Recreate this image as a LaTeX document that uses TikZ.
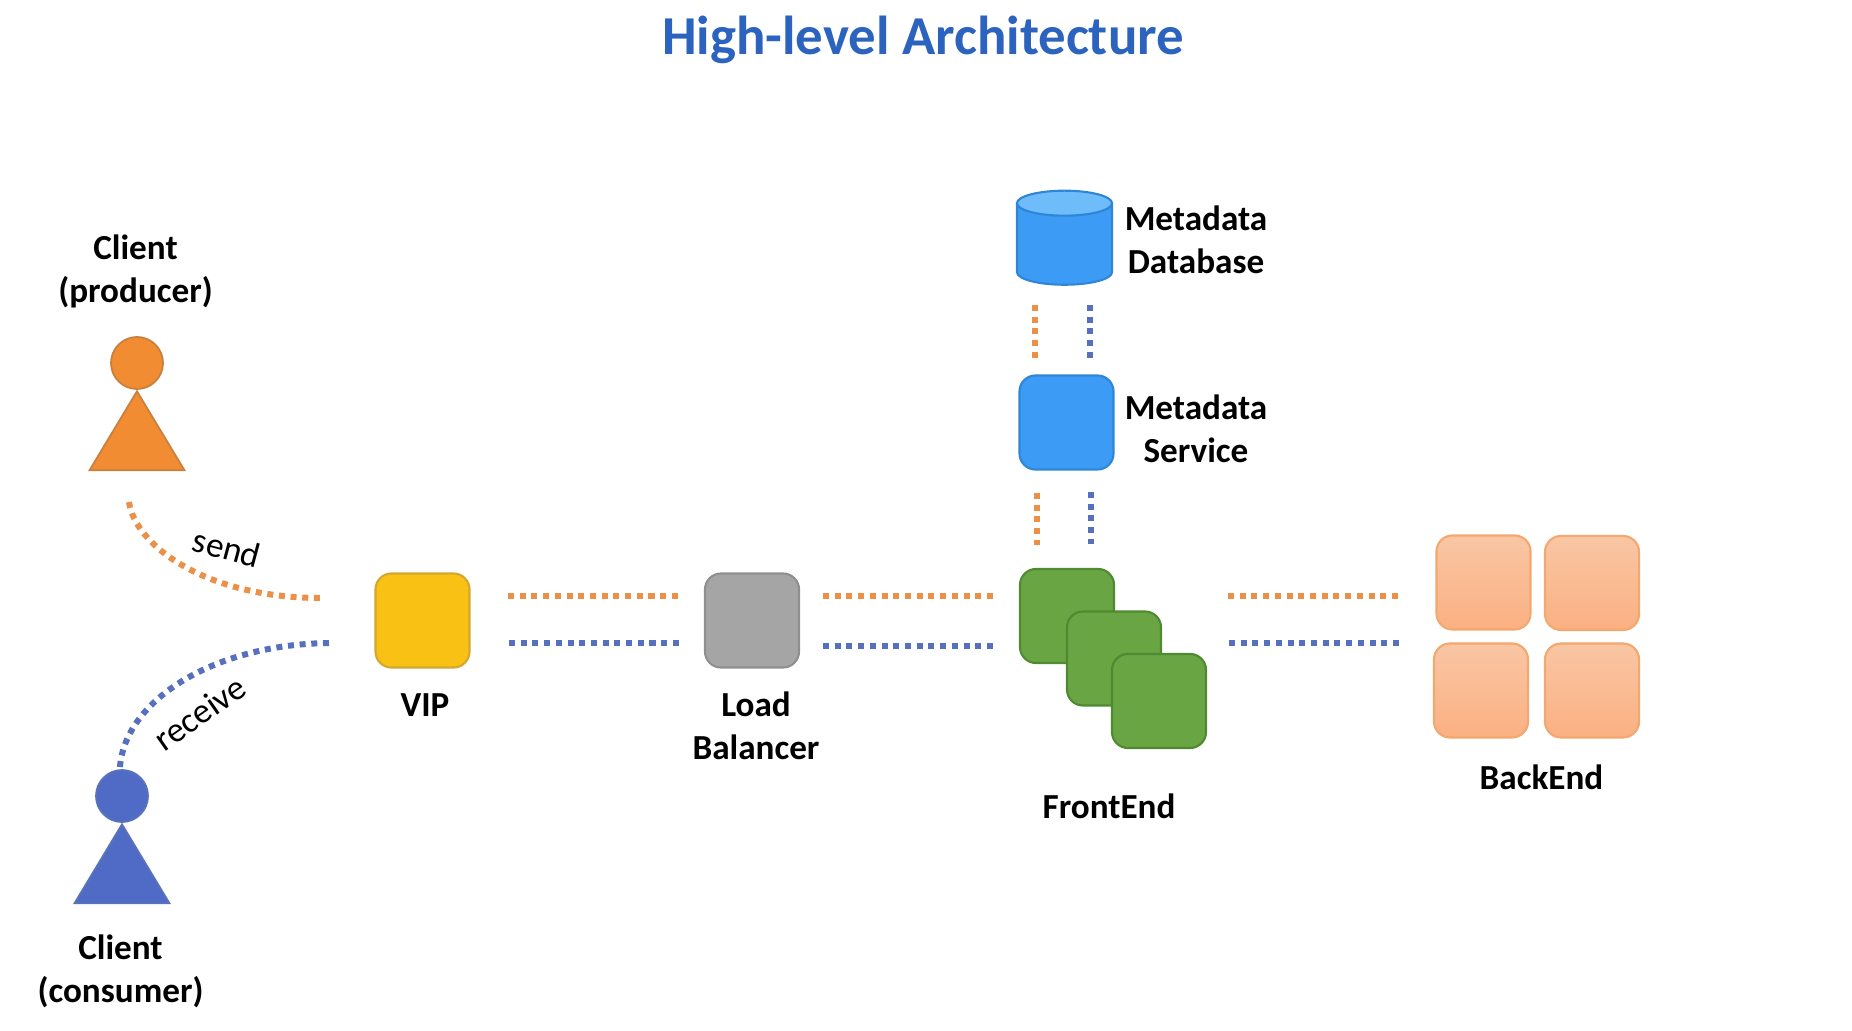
\documentclass[tikz,border=0pt]{standalone}
\usepackage{fontspec}
\setmainfont{Carlito}
\usetikzlibrary{shapes.geometric}
\definecolor{titleblue}{HTML}{2B63BE}
\definecolor{orangefill}{HTML}{F28C33}
\definecolor{orangeedge}{HTML}{C8803F}
\definecolor{orangedot}{HTML}{EA9048}
\definecolor{bluefill}{HTML}{4F6BC6}
\definecolor{blueedge}{HTML}{5A72B8}
\definecolor{bluedot}{HTML}{5670BE}
\definecolor{skyfill}{HTML}{3B9BF5}
\definecolor{skyedge}{HTML}{2F86D6}
\definecolor{skytop}{HTML}{6FBCFB}
\definecolor{vipyellow}{HTML}{F9C114}
\definecolor{vipedge}{HTML}{D3A82E}
\definecolor{lbgray}{HTML}{A5A5A5}
\definecolor{lbedge}{HTML}{8F8F8F}
\definecolor{frontgreen}{HTML}{6AA544}
\definecolor{frontedge}{HTML}{4F8A33}
\definecolor{peachtop}{HTML}{F9C6A4}
\definecolor{peachbottom}{HTML}{FBB082}
\definecolor{peachedge}{HTML}{F2A86F}
\tikzset{
    label/.style={font=\fontsize{10}{12.2}\selectfont\bfseries, align=center, inner sep=0pt},
    curvelabel/.style={font=\fontsize{10}{12}\selectfont, inner sep=0pt},
    box/.style={draw, rectangle, rounded corners=0.16cm, minimum width=0.94cm, minimum height=0.94cm, inner sep=0pt, line width=0.6pt},
    head/.style={draw, circle, minimum size=0.52cm, inner sep=0pt, line width=0.5pt},
    body/.style={draw, isosceles triangle, isosceles triangle stretches, shape border rotate=90, anchor=apex, minimum width=0.95cm, minimum height=0.79cm, inner sep=0pt, line width=0.5pt},
    sendline/.style={draw=orangedot, line width=0.06cm, dash pattern=on 0.06cm off 0.057cm},
    recvline/.style={draw=bluedot, line width=0.06cm, dash pattern=on 0.06cm off 0.057cm},
    frontbox/.style={box, draw=frontedge, fill=frontgreen},
    backbox/.style={box, draw=peachedge, top color=peachtop, bottom color=peachbottom},
}
\begin{document}
\begin{tikzpicture}[x=0.01cm, y=-0.01cm]
        \useasboundingbox (0,0) rectangle (1852,1031);

        \node[inner sep=0pt, text=titleblue, font=\fontsize{15.6}{18}\selectfont\bfseries] (title) at (923,40) {High-level Architecture};

        \node[head, fill=orangefill, draw=orangeedge] (prodhead) at (137,363) {};
        \node[body, fill=orangefill, draw=orangeedge] (prodbody) at (137,389) {};
        \node[label] (prodtext) at (135.5,271.5) {Client\\(producer)};

        \node[head, fill=bluefill, draw=blueedge] (conshead) at (122,796) {};
        \node[body, fill=bluefill, draw=blueedge] (consbody) at (122,822) {};
        \node[label] (constext) at (120.5,971) {Client\\(consumer)};

        \node[box, fill=vipyellow, draw=vipedge] (vip) at (422.5,620.5) {};
        \node[label] (viptext) at (425,705) {VIP};

        \node[box, fill=lbgray, draw=lbedge] (lb) at (752,620.5) {};
        \node[label] (lbtext) at (756,726) {Load\\Balancer};

        \node[cylinder, shape border rotate=90, aspect=0.5, draw=skyedge, cylinder uses custom fill, cylinder body fill=skyfill, cylinder end fill=skytop, minimum width=0.95cm, minimum height=0.94cm, inner sep=0pt, line width=0.6pt] (mdb) at (1064.5,244.5) {\phantom{\rule{0.5cm}{0.4cm}}};
        \node[label] (mdbtext) at (1196,240) {Metadata\\Database};

        \node[box, fill=skyfill, draw=skyedge] (ms) at (1066.5,422.5) {};
        \node[label] (mstext) at (1196,429) {Metadata\\Service};

        \node[frontbox] (fe1) at (1067,616) {};
        \node[frontbox] (fe2) at (1114,658.5) {};
        \node[frontbox] (fe3) at (1159,701) {};
        \node[label] (fetext) at (1109,806) {FrontEnd};

        \node[backbox] (be1) at (1483.5,582.5) {};
        \node[backbox] (be2) at (1592,583) {};
        \node[backbox] (be3) at (1481,690.5) {};
        \node[backbox] (be4) at (1592,690.5) {};
        \node[label] (betext) at (1541.5,777) {BackEnd};

        \coordinate (sendfrom) at (129,502);
        \coordinate (sendto) at (321,598);
        \coordinate (recvfrom) at (120,767);
        \coordinate (recvto) at (333,643);

        \path[sendline] (sendfrom) .. controls (135,545) and (205,598) .. (sendto);
        \path[recvline] (recvfrom) .. controls (125,700) and (215,643) .. (recvto);
        \node[curvelabel, rotate=-15] (sendtext) at (227,548) {send};
        \node[curvelabel, rotate=35] (recvtext) at (200,713) {receive};

        \coordinate (vipo) at (508,596);
        \coordinate (lbo1) at (678,596);
        \coordinate (vipb) at (509,643);
        \coordinate (lbb1) at (679,643);
        \coordinate (lbo2) at (823,596);
        \coordinate (feo1) at (993,596);
        \coordinate (lbb2) at (823,646);
        \coordinate (feb1) at (993,646);
        \coordinate (feo2) at (1228,596);
        \coordinate (beo) at (1398,596);
        \coordinate (feb2) at (1229,643);
        \coordinate (beb) at (1400,643);

        \path[sendline] (vipo) -- (lbo1);
        \path[recvline] (vipb) -- (lbb1);
        \path[sendline] (lbo2) -- (feo1);
        \path[recvline] (lbb2) -- (feb1);
        \path[sendline] (feo2) -- (beo);
        \path[recvline] (feb2) -- (beb);

        \coordinate (mdbo) at (1035,305);
        \coordinate (mso1) at (1035,358);
        \coordinate (mdbb) at (1090,305);
        \coordinate (msb1) at (1090,358);
        \coordinate (mso2) at (1037,493);
        \coordinate (feo3) at (1037,545);
        \coordinate (msb2) at (1091,492);
        \coordinate (feb3) at (1091,544);

        \path[sendline] (mdbo) -- (mso1);
        \path[recvline] (mdbb) -- (msb1);
        \path[sendline] (mso2) -- (feo3);
        \path[recvline] (msb2) -- (feb3);

    \end{tikzpicture}
\end{document}
